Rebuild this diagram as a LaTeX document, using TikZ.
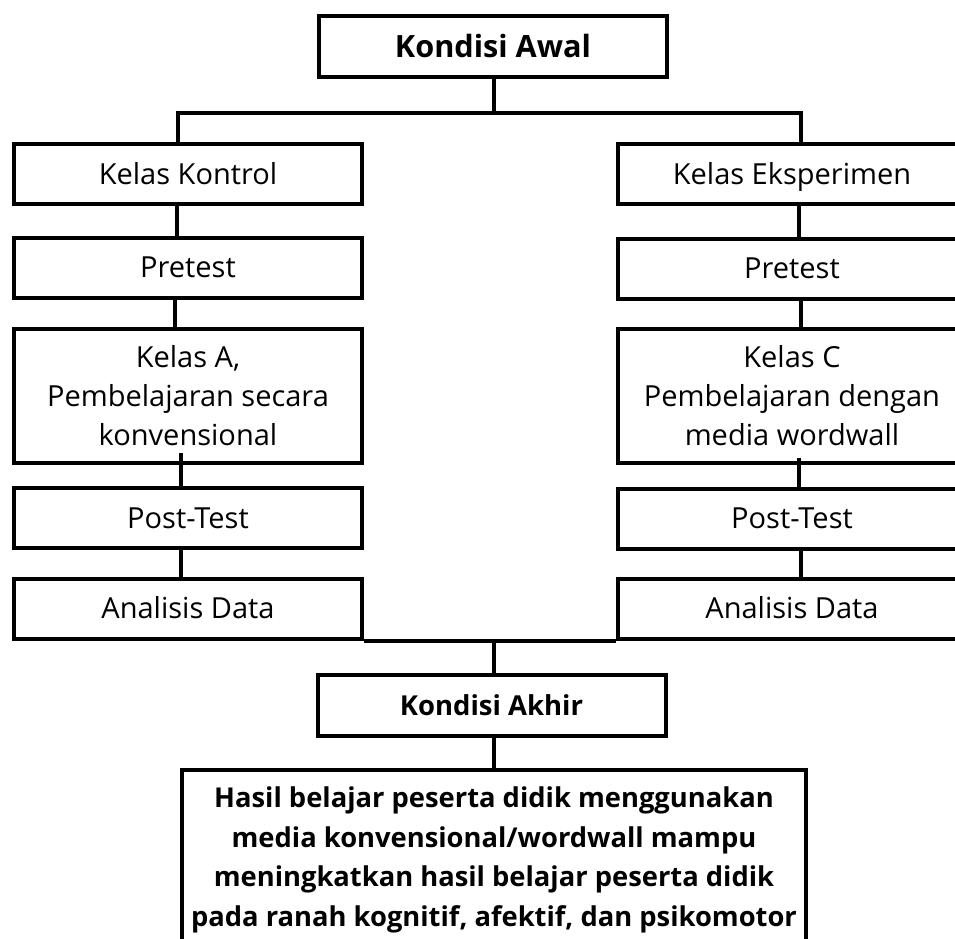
\documentclass[tikz,border=0pt]{standalone}
\usepackage{fontspec}
\setmainfont{Open Sans}
\begin{document}
\begin{tikzpicture}[x=0.75pt,y=-0.75pt,
  box/.style={draw=black,line width=3pt,inner sep=0pt,align=center,fill=white},
  colbox/.style={box,minimum width=261pt,minimum height=45pt,font=\fontsize{21.75}{29.25}\selectfont},
  oneline/.style={text height=15.5pt,text depth=0pt},
  headbox/.style={box,minimum width=261pt,minimum height=45.75pt},
  conn/.style={draw=black,line width=3pt}]
\useasboundingbox (0,0) rectangle (955,938);
\clip (0,0) rectangle (955,938);
\fill[white] (0,0) rectangle (955,938);
% top
\node[headbox,font=\fontsize{23}{28}\bfseries\selectfont] (awal) at (493,46.5) {Kondisi Awal};
% left column
\node[colbox,oneline] (kontrol) at (188,174) {Kelas Kontrol};
\node[colbox,oneline] (preL) at (188,267.5) {Pretest};
\node[colbox,minimum height=100.5pt] (kelasA) at (188,396) {Kelas A,\\Pembelajaran secara\\konvensional};
\node[colbox,oneline] (postL) at (188,518) {Post-Test};
\node[colbox,oneline] (anaL) at (188,608.5) {Analisis Data};
% right column
\node[colbox,oneline] (eksp) at (792,174) {Kelas Eksperimen};
\node[colbox,oneline] (preR) at (792,268.5) {Pretest};
\node[colbox,minimum height=100.5pt] (kelasC) at (792,396) {Kelas C\\Pembelajaran dengan\\media wordwall};
\node[colbox,oneline] (postR) at (792,518.5) {Post-Test};
\node[colbox,oneline] (anaR) at (792,608.5) {Analisis Data};
% bottom
\node[headbox,font=\fontsize{20.6}{26}\bfseries\selectfont] (akhir) at (491.5,705.5) {Kondisi Akhir};
\node[box,minimum width=468pt,minimum height=135pt,font=\fontsize{20.5}{29.6}\bfseries\selectfont] (hasil) at (494,860)
  {Hasil belajar peserta didik menggunakan\\media konvensional/wordwall mampu\\meningkatkan hasil belajar peserta didik\\pada ranah kognitif, afektif, dan psikomotor};
% coordinates
\coordinate (hL) at (178,113);
\coordinate (hR) at (801,113);
\coordinate (aL) at (177,0);
\coordinate (bL) at (175,0);
\coordinate (cL) at (181,0);
\coordinate (aR) at (799,0);
\coordinate (bR) at (801,0);
\coordinate (cR) at (799,0);
\coordinate (mid) at (494,0);
\coordinate (kAin) at (181,453);
\coordinate (kCin) at (799,458);
% connectors
\draw[conn] (mid |- awal.south) -- (mid |- hL);
\draw[conn] (hL |- kontrol.north) -- (hL) -- (hR) -- (hR |- eksp.north);
\draw[conn] (aL |- kontrol.south) -- (aL |- preL.north);
\draw[conn] (bL |- preL.south) -- (bL |- kelasA.north);
\draw[conn] (kAin) -- (cL |- postL.north);
\draw[conn] (cL |- postL.south) -- (cL |- anaL.north);
\draw[conn] (aR |- eksp.south) -- (aR |- preR.north);
\draw[conn] (bR |- preR.south) -- (bR |- kelasC.north);
\draw[conn] (kCin) -- (cR |- postR.north);
\draw[conn] (bR |- postR.south) -- (bR |- anaR.north);
\draw[conn] (anaL.south east) -- (anaR.south west);
\draw[conn] (mid |- anaL.south) -- (mid |- akhir.north);
\draw[conn] (mid |- akhir.south) -- (mid |- hasil.north);
\end{tikzpicture}
\end{document}
